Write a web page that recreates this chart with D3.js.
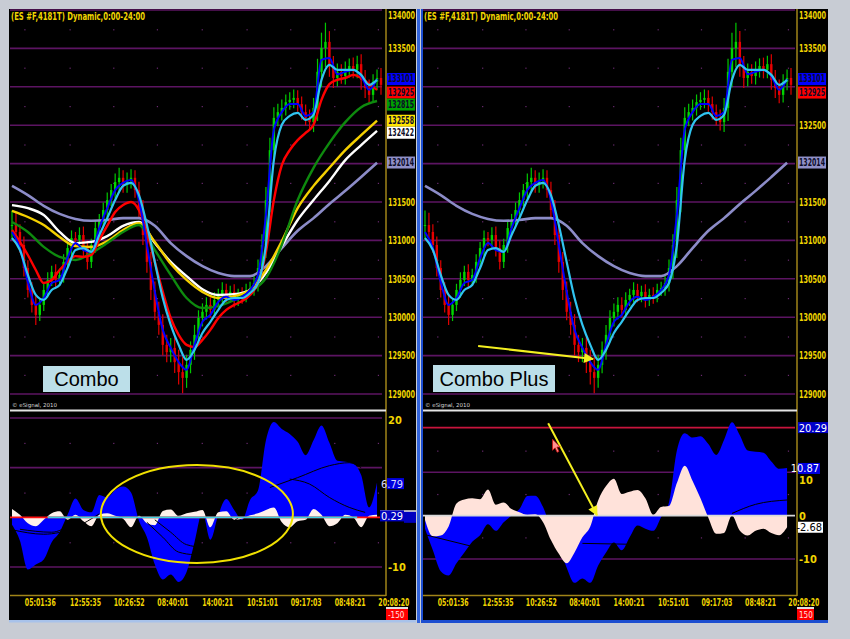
<!DOCTYPE html>
<html><head><meta charset="utf-8">
<script src="https://cdn.jsdelivr.net/npm/d3@7/dist/d3.min.js"></script>
<style>html,body{margin:0;padding:0;background:#c8ccd4;overflow:hidden}svg{display:block}</style>
</head><body>
<svg id="chart" width="850" height="639"></svg>
<script>
// ---------------- DATA ----------------
const closes=[131200,131110,130940,130640,130355,130160,130030,130160,130355,130485,
130590,130485,130550,130720,130900,131030,131005,131070,130900,130720,
130940,131160,131265,131395,131525,131655,131760,131815,131720,131785,
131815,131655,131395,131070,130720,130355,130070,129900,129640,129545,
129600,129415,129285,129210,129380,129575,129770,129990,130070,130160,
130095,130225,130290,130355,130275,130330,130225,130290,130275,130355,
130380,130445,130640,130940,131525,132175,132595,132670,132725,132800,
132830,132855,132775,132670,132595,132540,132725,133195,133505,133585,
133270,133115,133195,133140,133220,133270,133220,133295,133090,132985,
132895,133065,133115,133025];
const wicks=[190,160,100,110,100,100,130,80,80,100, 80,100,80,100,80,100,80,100,110,100,
80,100,80,100,100,80,110,130,100,100, 110,100,110,130,140,130,110,130,140,130,
130,140,160,200,130,110,130,100,110,100, 100,100,80,100,80,80,100,80,100,80,
80,100,110,140,170,160,140,110,110,100, 100,110,100,100,100,110,130,170,200,250,
140,130,110,100,110,100,110,110,130,130, 110,100,110,130];
// slow averages: one value every 4 bars
const maLavender=[131710,131590,131450,131345,131280,131255,131265,131290,131290,131190,130965,130795,130665,130575,130535,130535,130665,130900,131125,131290,131475,131645,131825,132010];
const maWhite=[131460,131420,131330,131110,130965,130980,131055,131190,131240,130965,130720,130535,130365,130290,130300,130355,130575,130925,131265,131525,131775,132045,132240,132425];
const maYellow=[131385,131305,131200,131045,130925,130915,130990,131135,131225,130980,130695,130485,130330,130250,130275,130355,130615,130990,131420,131710,131945,132175,132370,132560];
const maGreen=[131240,131110,130915,130785,130745,130835,130965,131110,131200,130875,130550,130250,130120,130145,130225,130330,130510,130940,131525,131945,132270,132540,132735,132815];
// fast averages: one value every 2 bars
const maRed=[131135,130980,130810,130615,130445,130485,130615,130720,130795,130785,
130810,131005,131190,131370,131460,131500,131395,131110,130720,130330,
129990,129770,129640,129610,129705,129835,129990,130095,130160,130210,
130290,130445,130850,131525,131980,132175,132305,132400,132505,132830,
133035,133090,133115,133155,133115,133035,132960];
const maCyan=[131030,130875,130550,130290,130225,130355,130420,130640,130875,130900,
130850,131070,131290,131525,131710,131750,131590,131200,130720,130250,
129900,129640,129445,129575,129795,129940,130095,130225,130250,130250,
130315,130445,130940,132045,132505,132620,132660,132570,132635,133090,
133285,133220,133220,133220,133155,133025,133090];
const maBlue=[131110,130900,130460,130160,130250,130445,130485,130770,130965,130875,
130850,131160,131420,131655,131750,131785,131525,130940,130330,129835,
129600,129415,129315,129640,129940,130030,130200,130265,130225,130265,
130355,130550,131330,132440,132670,132775,132775,132620,132670,133350,
133375,133165,133195,133220,133140,132960,133100];
// oscillators: one value every 2 bars
const oscLeftSlow=[-1.5,-4.7,-10.5,-9.5,-8.5,-5,-3,0.5,3.8,1.5,
1,4.5,4,5.5,6.2,5,-0.7,-4,-9.5,-12.5,
-11.5,-13,-11,-5,1,-4.5,0.5,3.7,1.5,-0.5,
3.5,5.4,15.5,19.2,17.8,16.8,15.2,12.5,15.5,18.5,
15,11.4,11.2,10.8,8.5,2,7];
const oscLeftFast=[1.7,0.5,-1.2,-1.8,-0.5,0.8,1.2,-0.5,0.5,-0.8,
-1.8,0.5,0.8,0.3,-0.3,-2,0.3,-1.2,-1.6,1.3,
1.6,0.3,0.8,1.1,1.5,-2,1,1.2,-0.5,-0.3,
0.4,0.8,1.5,2,-1,-2,-0.8,-0.5,1.7,0.5,
-1.8,-1.2,0.5,0,-2,0.3,0.5];
const oscRightSlow=[-3,-8,-12.8,-13.8,-11,-8.5,-6,-4.5,-2,-3.5,
-1.5,0,1.5,4.5,4.6,2,-3,-7,-12,-15.5,
-14.5,-15.5,-11.5,-8.5,-6.2,-8,-5,-2.3,-3,-3.5,
-0.3,3,15,19,18,18.3,16.5,14,17.5,21.5,
18.5,15,14.7,14.5,12.5,10.8,11];
const oscRightFast=[-1,-4.8,-4.6,-2.5,2.8,3.7,4,3.8,6,2.5,
3,1.5,0.8,0.2,0.3,-1.5,-5.6,-8.8,-11,-8.5,
-5,-2.5,3.5,6.8,8.5,5,5.5,5.9,4,0.2,
2,2.2,7.5,11.5,8,4,-0.5,-4.2,-4,0,
-3.5,-4.6,-3.5,-3,-4,-4.5,-2.7];
// thin black signal lines inside the oscillator: bar index / value pairs
const leftOscLineIdx=[[0,8,16,22],[2,10,15],[34,38,42,46,50,54,58],[36,40,44,48,52,56],[65,72,80,85,88],[70,75,80,85,89]];
const leftOscLineVal=[[-2.5,-3.4,-2,0.7],[-2.4,-3,-1.3],[-1,-4,-7,-7.5,-5,-2,0.5],[-0.5,-3,-5.5,-6,-4,-1.5],[6,8,10.4,11,10],[7.7,6.7,4,2,1]];
const rightOscLineIdx=[[0,12],[40,52],[78,84,92]];
const rightOscLineVal=[[-4.4,-7.1],[-6.4,-6.6],[0.5,2.6,3.6]];

const priceTicks=[129000,129500,130000,130500,131000,131500,132000,132500,133000,133500,134000];
const timeTickIdx=[3.1,14.5,25.5,36.5,47.8,59.1,70.1,81.2,92.2];
const timeLabels=["05:01:36","12:55:35","10:26:52","08:40:01","14:00:21","10:51:01","09:17:03","08:48:21","20:08:20"];
const leftPriceTags=[133101,132925,132815,132558,132422,132014];
const leftPriceTagFill=["#0000ff","#ff0000","#00a000","#ffe400","#ffffff","#9090c8"];
const rightPriceTags=[133101,132925,132014];
const rightPriceTagFill=["#0000ff","#ff0000","#9090c8"];
const leftOscTicks=[20,-10];
const rightOscTicks=[10,0,-10];
const leftOscTags=[6.79,0.29];
const rightOscTags=[20.29,10.87,-2.68];
const header="(ES #F,4181T) Dynamic,0:00-24:00";

// ---------------- DRAWING ----------------
const FONT="'Liberation Sans Narrow','Arial Narrow','DejaVu Sans Condensed','Liberation Sans',sans-serif";
const YEL="#f0d400";
const svg=d3.select('#chart');
svg.append('rect').attr('width',850).attr('height',639).attr('fill','#c8ccd4');
const defs=svg.append('defs');
defs.append('marker').attr('id','arr').attr('viewBox','0 0 10 10').attr('refX',9).attr('refY',5)
  .attr('markerWidth',6).attr('markerHeight',5).attr('orient','auto').attr('markerUnits','strokeWidth')
  .append('path').attr('d','M0,0L10,5L0,10z').attr('fill','#f4f020');

const panels=[
 {id:'L',px0:9,px1:416,gx0:10,gx1:382,bx0:12,bx1:381,axisX:386,oscDom:[-10,20],oscRange:[567,418],
  mas:'full',slow:oscLeftSlow,fast:oscLeftFast,oscTicks:leftOscTicks,grid:[20,10,-10],
  lineIdx:leftOscLineIdx,lineVal:leftOscLineVal,tags:leftPriceTags,tagFill:leftPriceTagFill,pink:'#fff0ea'},
 {id:'R',px0:423,px1:828,gx0:423,gx1:795,bx0:425,bx1:791,axisX:797,oscDom:[-10,20.29],oscRange:[559,427.6],
  mas:'plus',slow:oscRightSlow,fast:oscRightFast,oscTicks:rightOscTicks,grid:[10,-10],
  lineIdx:rightOscLineIdx,lineVal:rightOscLineVal,tags:rightPriceTags,tagFill:rightPriceTagFill,pink:'#ffe2da'}
];

// window separators
svg.append('rect').attr('x',417).attr('y',9).attr('width',3).attr('height',614).attr('fill','#3264dc');
svg.append('rect').attr('x',421).attr('y',9).attr('width',2).attr('height',614).attr('fill','#1c4ed0');

panels.forEach(cfg=>{
  const g=svg.append('g');
  const x=d3.scaleLinear().domain([0,closes.length-1]).range([cfg.bx0,cfg.bx1]);
  const y=d3.scaleLinear().domain([129000,134000]).range([394,10]);
  const yo=d3.scaleLinear().domain(cfg.oscDom).range(cfg.oscRange);

  g.append('rect').attr('x',cfg.px0).attr('y',9).attr('width',cfg.px1-cfg.px0).attr('height',611).attr('fill','#000');
  defs.append('clipPath').attr('id','cp'+cfg.id).append('rect').attr('x',cfg.gx0).attr('y',9).attr('width',cfg.axisX-cfg.gx0).attr('height',387);
  defs.append('clipPath').attr('id','co'+cfg.id).append('rect').attr('x',cfg.gx0).attr('y',412).attr('width',cfg.axisX-cfg.gx0).attr('height',181);

  // price grid
  g.selectAll('.pg').data(priceTicks).join('line').attr('x1',cfg.gx0).attr('x2',cfg.gx1)
    .attr('y1',d=>y(d)).attr('y2',d=>y(d)).attr('stroke','#5c1462').attr('stroke-width',1.6);
  const halfLevels=priceTicks.slice(0,-1).map(d=>d+250);
  timeTickIdx.forEach(t=>{
    halfLevels.forEach(h=>g.append('rect').attr('x',x(t)).attr('y',y(h)).attr('width',1.2).attr('height',1.2).attr('fill','#6a2a70'));
    [15,5,-5].forEach(h=>g.append('rect').attr('x',x(t)).attr('y',yo(h)).attr('width',1.2).attr('height',1.2).attr('fill','#6a2a70'));
  });

  // header
  g.append('text').attr('x',cfg.gx0+1).attr('y',20).attr('fill',YEL).attr('font-family',FONT).attr('font-weight','bold')
    .attr('font-size',11).attr('textLength',134).attr('lengthAdjust','spacingAndGlyphs').text(header);

  // candles
  const pc=g.append('g').attr('clip-path','url(#cp'+cfg.id+')');
  const bars=closes.map((c,i)=>{const o=i?closes[i-1]:c;return {i,o,c,hi:Math.max(o,c)+wicks[i],lo:Math.min(o,c)-wicks[i]};});
  pc.selectAll('.wk').data(bars).join('line').attr('x1',d=>x(d.i)).attr('x2',d=>x(d.i))
    .attr('y1',d=>y(d.hi)).attr('y2',d=>y(d.lo)).attr('stroke',d=>d.c>=d.o?'#00c800':'#e00000').attr('stroke-width',1.2);
  pc.selectAll('.bd').data(bars).join('rect').attr('x',d=>x(d.i)-1.2).attr('width',2.4)
    .attr('y',d=>y(Math.max(d.o,d.c))).attr('height',d=>Math.max(1,Math.abs(y(d.o)-y(d.c))))
    .attr('fill',d=>d.c>=d.o?'#00d400':'#e80000');

  const ln=(arr,step,color,w)=>{
    const gen=d3.line().x((d,k)=>x(k*step)).y(d=>y(d)).curve(d3.curveMonotoneX);
    pc.append('path').attr('d',gen(arr)).attr('fill','none').attr('stroke',color).attr('stroke-width',w).attr('stroke-linejoin','round');
  };
  ln(maLavender,4,'#8c8cc8',2.6);
  if(cfg.mas==='full'){
    ln(maWhite,4,'#ffffff',2.4);
    ln(maYellow,4,'#f4d000',2.4);
    ln(maGreen,4,'#0e8a0e',2.4);
    ln(maRed,2,'#ff0000',2.4);
  }
  ln(maBlue,2,'#0000ff',2);
  ln(maCyan,2,'#30c4f0',2.2);

  // axis line
  g.append('line').attr('x1',cfg.axisX).attr('x2',cfg.axisX).attr('y1',9).attr('y2',596).attr('stroke','#a08418').attr('stroke-width',1.5);
  g.append('line').attr('x1',cfg.gx0).attr('x2',cfg.axisX).attr('y1',595.5).attr('y2',595.5).attr('stroke','#a08418').attr('stroke-width',1.5);

  // price axis labels (ticks covered by a price tag are not shown, as in the original)
  const shownTicks=priceTicks.filter(t=>cfg.tags.every(v=>Math.abs(y(t)-y(v))>9));
  const pa=g.append('g').attr('transform','translate('+(cfg.axisX+1)+',0)')
    .call(d3.axisRight(y).tickValues(shownTicks).tickSize(0).tickPadding(1).tickFormat(d=>String(d)));
  pa.select('.domain').remove();
  pa.selectAll('text').attr('fill',YEL).attr('font-family',FONT).attr('font-weight','bold').attr('font-size',10)
    .attr('textLength',27).attr('lengthAdjust','spacingAndGlyphs');
  pa.selectAll('.tick').filter(d=>d===134000).select('text').attr('y',5);

  // price tags, stacked so they do not cover each other
  let prev=-Infinity;
  cfg.tags.map((v,k)=>({v,k,yc:y(v)})).sort((a,b)=>a.yc-b.yc).forEach(t=>{
    const yc=Math.max(t.yc,prev+12); prev=yc;
    g.append('rect').attr('x',cfg.axisX+1).attr('y',yc-6).attr('width',28).attr('height',12).attr('fill',cfg.tagFill[t.k]);
    g.append('text').attr('x',cfg.axisX+2).attr('y',yc).attr('dy','0.34em').attr('fill','#0c0c28').attr('font-family',FONT)
      .attr('font-weight','bold').attr('font-size',10).attr('textLength',26).attr('lengthAdjust','spacingAndGlyphs').text(String(t.v));
  });

  // separator and copyright
  g.append('text').attr('x',cfg.gx0+2).attr('y',407).attr('fill','#d8d8d8').attr('font-family',"'DejaVu Sans',sans-serif").attr('font-size',5.5).text('© eSignal, 2010');
  g.append('line').attr('x1',cfg.gx0).attr('x2',cfg.axisX).attr('y1',410.5).attr('y2',410.5).attr('stroke','#e4e4e4').attr('stroke-width',2);

  // oscillator
  const og=g.append('g').attr('clip-path','url(#co'+cfg.id+')');
  og.selectAll('.og').data(cfg.grid).join('line').attr('x1',cfg.gx0).attr('x2',cfg.gx1)
    .attr('y1',d=>yo(d)).attr('y2',d=>yo(d)).attr('stroke','#5c1462').attr('stroke-width',1.6);
  if(cfg.id==='R') og.append('line').attr('x1',cfg.gx0).attr('x2',cfg.gx1).attr('y1',yo(20.29)).attr('y2',yo(20.29)).attr('stroke','#c8143c').attr('stroke-width',1.6);
  const ar=d3.area().x((d,k)=>x(k*2)).y0(yo(0)).y1(d=>yo(d)).curve(d3.curveMonotoneX);
  og.append('path').attr('d',ar(cfg.slow)).attr('fill','#0000ff');
  og.append('path').attr('d',ar(cfg.fast)).attr('fill',cfg.pink);
  cfg.lineIdx.forEach((idx,k)=>{
    const pts=idx.map((ix,j)=>[x(ix),yo(cfg.lineVal[k][j])]);
    og.append('path').attr('d',d3.line().curve(d3.curveMonotoneX)(pts)).attr('fill','none').attr('stroke','#000').attr('stroke-width',1);
  });
  if(cfg.id==='L'){
    og.append('line').attr('x1',cfg.gx0).attr('x2',cfg.gx1).attr('y1',yo(0)).attr('y2',yo(0)).attr('stroke','#ff1010').attr('stroke-width',1.6);
    og.append('line').attr('x1',x(9)).attr('x2',x(87)).attr('y1',yo(0)).attr('y2',yo(0)).attr('stroke','#40d0e0').attr('stroke-width',1.6);
  } else {
    og.append('line').attr('x1',cfg.gx0).attr('x2',cfg.gx1).attr('y1',yo(0)).attr('y2',yo(0)).attr('stroke','#d8d8d8').attr('stroke-width',1.6);
  }

  // oscillator axis labels
  const oa=g.append('g').attr('transform','translate('+(cfg.axisX+1)+',0)')
    .call(d3.axisRight(yo).tickValues(cfg.oscTicks).tickSize(0).tickPadding(1).tickFormat(d=>String(d)));
  oa.select('.domain').remove();
  oa.selectAll('text').attr('fill',YEL).attr('font-family',FONT).attr('font-weight','bold').attr('font-size',11);
  oa.selectAll('.tick').filter(d=>d===20).select('text').attr('y',2);
  oa.selectAll('.tick').filter(d=>d===10).select('text').attr('y',8);

  // time axis
  const ta=g.append('g').attr('transform','translate(0,598)')
    .call(d3.axisBottom(x).tickValues(timeTickIdx).tickSize(0).tickPadding(0).tickFormat((d,i)=>timeLabels[i]));
  ta.select('.domain').remove();
  ta.selectAll('text').attr('fill',YEL).attr('font-family',FONT).attr('font-weight','bold').attr('font-size',10)
    .attr('text-anchor','start').attr('dy','0.75em').attr('textLength',31).attr('lengthAdjust','spacingAndGlyphs');

  // red price box at bottom
  g.append('rect').attr('x',cfg.axisX).attr('y',609).attr('width',cfg.id==='L'?22:17).attr('height',11).attr('fill','#ff0000');
  g.append('rect').attr('x',cfg.axisX).attr('y',607).attr('width',cfg.id==='L'?22:17).attr('height',2).attr('fill','#e0e0e0');
  g.append('text').attr('x',cfg.axisX+2).attr('y',617.5).attr('fill','#ffe0e0').attr('font-family',FONT).attr('font-size',8).text(cfg.id==='L'?'-150':'150');

  cfg.x=x; cfg.y=y; cfg.yo=yo; cfg.g=g;
});

// oscillator value tags
function oscTag(cfg,v,x0,w,fill,tf){
  const yc=cfg.yo(v);
  cfg.g.append('rect').attr('x',x0).attr('y',yc-5.5).attr('width',w).attr('height',11).attr('fill',fill);
  cfg.g.append('text').attr('x',x0+w-1).attr('y',yc).attr('dy','0.36em').attr('text-anchor','end').attr('fill',tf)
    .attr('font-family',FONT).attr('font-size',11).text(String(v));
}
const L=panels[0],R=panels[1];
oscTag(L,leftOscTags[0],387,17,'#0000e0','#d8d8ff');
L.g.append('rect').attr('x',380).attr('y',L.yo(0)-7).attr('width',36).attr('height',1.5).attr('fill','#ffffff');
oscTag(L,leftOscTags[1],380,24,'#0000c0','#ffffff');
L.g.append('rect').attr('x',404).attr('y',L.yo(0)-5.5).attr('width',12).attr('height',11).attr('fill','#0000c0');
oscTag(R,rightOscTags[0],798,30,'#0000c8','#ffffff');
oscTag(R,rightOscTags[1],798,22,'#0000e0','#ffffff');
oscTag(R,rightOscTags[2],798,25,'#ffffff','#000000');

// annotations
const ell={cx:46.6,cy:0.66,rx:24.2,ry:9.86};
L.g.append('ellipse').attr('cx',L.x(ell.cx)).attr('cy',L.yo(ell.cy))
  .attr('rx',L.x(ell.cx+ell.rx)-L.x(ell.cx)).attr('ry',L.yo(0)-L.yo(ell.ry))
  .attr('fill','none').attr('stroke','#f0e000').attr('stroke-width',2);

const arrowPrice={i0:13.5,p0:129625,i1:42.7,p1:129456};
R.g.append('line').attr('x1',R.x(arrowPrice.i0)).attr('y1',R.y(arrowPrice.p0)).attr('x2',R.x(arrowPrice.i1)).attr('y2',R.y(arrowPrice.p1))
  .attr('stroke','#f4f020').attr('stroke-width',2).attr('marker-end','url(#arr)');
const arrowOsc={i0:31.3,v0:21.3,i1:43.7,v1:0.1};
R.g.append('line').attr('x1',R.x(arrowOsc.i0)).attr('y1',R.yo(arrowOsc.v0)).attr('x2',R.x(arrowOsc.i1)).attr('y2',R.yo(arrowOsc.v1))
  .attr('stroke','#f4f020').attr('stroke-width',2).attr('marker-end','url(#arr)');
const cursor={i:32.4,v:17.6};
R.g.append('path').attr('transform','translate('+R.x(cursor.i)+','+R.yo(cursor.v)+')')
  .attr('d','M0,0L0,11L2.6,8.6L4.6,13L6.4,12.2L4.4,7.8L7.8,7.8Z').attr('fill','#ff9090').attr('stroke','#d01010').attr('stroke-width',0.8);

function labelBox(x0,y0,w,h,txt){
  svg.append('rect').attr('x',x0).attr('y',y0).attr('width',w).attr('height',h).attr('fill','#bcdfe9');
  svg.append('text').attr('x',x0+w/2).attr('y',y0+h/2).attr('dy','0.36em').attr('text-anchor','middle')
    .attr('font-family',"'Liberation Sans',Arial,sans-serif").attr('font-size',20).attr('fill','#000').text(txt);
}
labelBox(43,366,87,26,'Combo');
labelBox(433,365,122,27,'Combo Plus');

// bottom borders
svg.append('rect').attr('x',9).attr('y',620).attr('width',407).attr('height',2.5).attr('fill','#a8c2ea');
svg.append('rect').attr('x',421).attr('y',620).attr('width',407).attr('height',3).attr('fill','#1c4ed0');
</script>
</body></html>
